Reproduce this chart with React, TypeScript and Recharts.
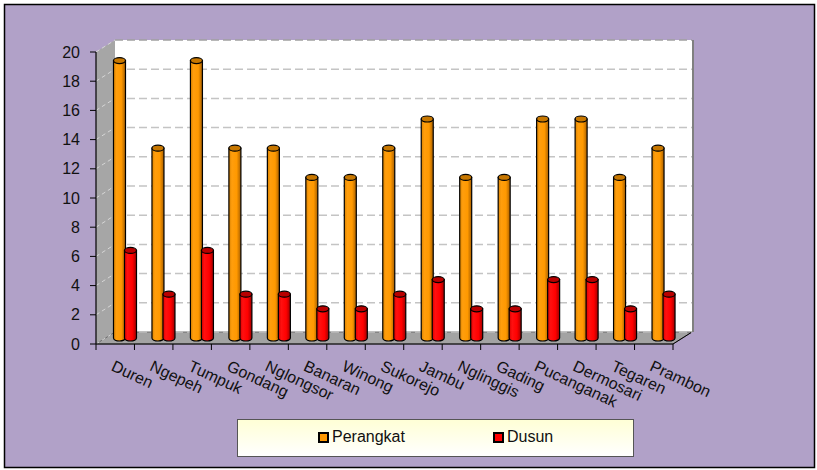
import { BarChart, Bar, XAxis, YAxis, CartesianGrid, Legend } from 'recharts';

const categories = ['Duren', 'Ngepeh', 'Tumpuk', 'Gondang', 'Nglongsor', 'Banaran', 'Winong', 'Sukorejo', 'Jambu', 'Nglinggis', 'Gading', 'Pucanganak', 'Dermosari', 'Tegaren', 'Prambon'];
const perangkat = [19, 13, 19, 13, 13, 11, 11, 13, 15, 11, 11, 15, 15, 11, 13];
const dusun = [6, 3, 6, 3, 3, 2, 2, 3, 4, 2, 2, 4, 4, 2, 3];
const yTicks = [0, 2, 4, 6, 8, 10, 12, 14, 16, 18, 20];
const seriesNames = ['Perangkat', 'Dusun'];

const data = categories.map((name, i) => ({ name, perangkat: perangkat[i], dusun: dusun[i] }));

// layout of the front plane
const W = 817;
const H = 470;
const LEFT = 96;
const RIGHT = 673;
const TOP = 52;
const BOTTOM = 344;
const BACK_DX = 19;
const BACK_DY = -12;
const BAR_DX = 9.5;
const BAR_DY = -6;
const STEP = (RIGHT - LEFT) / categories.length;
const FONT = '"Liberation Sans", Arial, sans-serif';

const cylinder = (gradId: string, topFill: string) => (props: any) => {
  const { x, y, width, height } = props;
  if (!height || height <= 0) return <g />;
  const X = x + BAR_DX;
  const Y = y + BAR_DY;
  const rx = width / 2;
  const ry = 3;
  return (
    <g>
      <path
        d={`M${X},${Y} L${X},${Y + height} A${rx},${ry} 0 0 0 ${X + width},${Y + height} L${X + width},${Y} Z`}
        fill={`url(#${gradId})`}
        stroke="#000"
        strokeWidth={1.2}
      />
      <ellipse cx={X + rx} cy={Y} rx={rx} ry={ry} fill={topFill} stroke="#000" strokeWidth={1.2} />
    </g>
  );
};

const GridLine = (props: any) => {
  const { y1, x1 } = props;
  return (
    <g>
      <line x1={x1} y1={y1} x2={x1 + BACK_DX} y2={y1 + BACK_DY} stroke="#D6D6D6" strokeWidth={1} strokeDasharray="4 3" />
      <line
        x1={x1 + BACK_DX}
        y1={y1 + BACK_DY}
        x2={RIGHT + BACK_DX}
        y2={y1 + BACK_DY}
        stroke={y1 <= TOP + 0.5 ? '#A0A0A0' : '#C4C4C4'}
        strokeWidth={1.5}
        strokeDasharray="8 4"
      />
    </g>
  );
};

const XTick = (props: any) => {
  const { x, y, payload, index } = props;
  const bx = x - STEP / 2;
  return (
    <g>
      <line x1={bx} y1={y} x2={bx} y2={y + 6} stroke="#000" />
      {index === categories.length - 1 && <line x1={bx + STEP} y1={y} x2={bx + STEP} y2={y + 6} stroke="#000" />}
      <text
        x={x - 5}
        y={y + 26}
        transform={`rotate(25 ${x - 5} ${y + 26})`}
        textAnchor="start"
        fontSize={16}
        fontFamily={FONT}
        fill="#111"
      >
        {payload.value}
      </text>
    </g>
  );
};

const renderLegend = (props: any) => {
  const items = [...(props.payload || [])].sort(
    (a: any, b: any) => seriesNames.indexOf(a.value) - seriesNames.indexOf(b.value)
  );
  return (
    <div
      style={{
        width: 395,
        height: 36,
        border: '1.5px solid #555',
        background: 'linear-gradient(to bottom, #FFFFD6, #FFFFFF)',
        fontFamily: FONT,
        fontSize: 16,
        color: '#111',
        position: 'relative',
      }}
    >
      {items.map((entry: any, i: number) => (
        <div
          key={`leg-${i}`}
          style={{ position: 'absolute', left: i === 0 ? 80 : 255, top: 8, display: 'flex', alignItems: 'center' }}
        >
          <span
            style={{
              display: 'inline-block',
              width: 7,
              height: 7,
              border: '2px solid #000',
              background: entry.color,
              marginRight: 3,
            }}
          />
          <span>{entry.value}</span>
        </div>
      ))}
    </div>
  );
};

const App = () => {
  return (
    <div style={{ position: 'absolute', left: 0, top: 0, width: W, height: H }}>
      <svg width={W} height={H} style={{ position: 'absolute', left: 0, top: 0 }}>
        <defs>
          <linearGradient id="gradOrange" x1="0" y1="0" x2="1" y2="0">
            <stop offset="0%" stopColor="#D98200" />
            <stop offset="25%" stopColor="#FF9E0D" />
            <stop offset="65%" stopColor="#FF9900" />
            <stop offset="100%" stopColor="#A85F00" />
          </linearGradient>
          <linearGradient id="gradRed" x1="0" y1="0" x2="1" y2="0">
            <stop offset="0%" stopColor="#D90000" />
            <stop offset="25%" stopColor="#FF1010" />
            <stop offset="65%" stopColor="#FF0000" />
            <stop offset="100%" stopColor="#A00000" />
          </linearGradient>
        </defs>
        <rect x={4.5} y={4.5} width={810} height={463} fill="#B1A1C8" stroke="#000" strokeWidth={1.5} />
        {/* back wall */}
        <rect x={LEFT + BACK_DX} y={TOP + BACK_DY} width={RIGHT - LEFT} height={BOTTOM - TOP} fill="#FFFFFF" />
        <line x1={RIGHT + BACK_DX + 1} y1={TOP + BACK_DY} x2={RIGHT + BACK_DX + 1} y2={BOTTOM + BACK_DY} stroke="#808080" strokeWidth={2} />
        {/* side wall */}
        <polygon
          points={`${LEFT},${TOP} ${LEFT + BACK_DX},${TOP + BACK_DY} ${LEFT + BACK_DX},${BOTTOM + BACK_DY} ${LEFT},${BOTTOM}`}
          fill="#A6A6A6"
        />
        {/* floor */}
        <polygon
          points={`${LEFT},${BOTTOM} ${LEFT + BACK_DX},${BOTTOM + BACK_DY} ${RIGHT + BACK_DX},${BOTTOM + BACK_DY} ${RIGHT},${BOTTOM}`}
          fill="#A3A3A3"
          stroke="#6A6A6A"
          strokeWidth={1}
        />
        <line x1={RIGHT} y1={BOTTOM} x2={RIGHT + BACK_DX} y2={BOTTOM + BACK_DY} stroke="#000" strokeWidth={1} />
      </svg>
      <div style={{ position: 'absolute', left: 0, top: 0 }}>
        <BarChart
          width={W}
          height={H}
          data={data}
          margin={{ top: TOP, right: W - RIGHT, left: LEFT - 60, bottom: H - BOTTOM - 60 }}
          barSize={12}
          barGap={-1}
        >
          <CartesianGrid vertical={false} horizontal={GridLine} />
          <XAxis
            dataKey="name"
            height={60}
            interval={0}
            tickLine={false}
            tickSize={0}
            tickMargin={0}
            axisLine={{ stroke: '#000', strokeWidth: 1.2 }}
            tick={XTick}
          />
          <YAxis
            width={60}
            domain={[0, 20]}
            ticks={yTicks}
            interval={0}
            tickSize={6}
            tickMargin={10}
            axisLine={{ stroke: '#000', strokeWidth: 1.2 }}
            tickLine={{ stroke: '#000' }}
            tick={{ fontSize: 16, fontFamily: FONT, fill: '#111' }}
          />
          <Bar dataKey="perangkat" name="Perangkat" fill="#FF9900" isAnimationActive={false} shape={cylinder('gradOrange', '#C77700')} />
          <Bar dataKey="dusun" name="Dusun" fill="#FF0000" isAnimationActive={false} shape={cylinder('gradRed', '#B80000')} />
          <Legend
            layout="horizontal"
            align="center"
            verticalAlign="middle"
            content={renderLegend}
            wrapperStyle={{ position: 'absolute', left: 237, top: 419, width: 398, height: 38, bottom: 'auto' }}
          />
        </BarChart>
      </div>
    </div>
  );
};

export default App;
